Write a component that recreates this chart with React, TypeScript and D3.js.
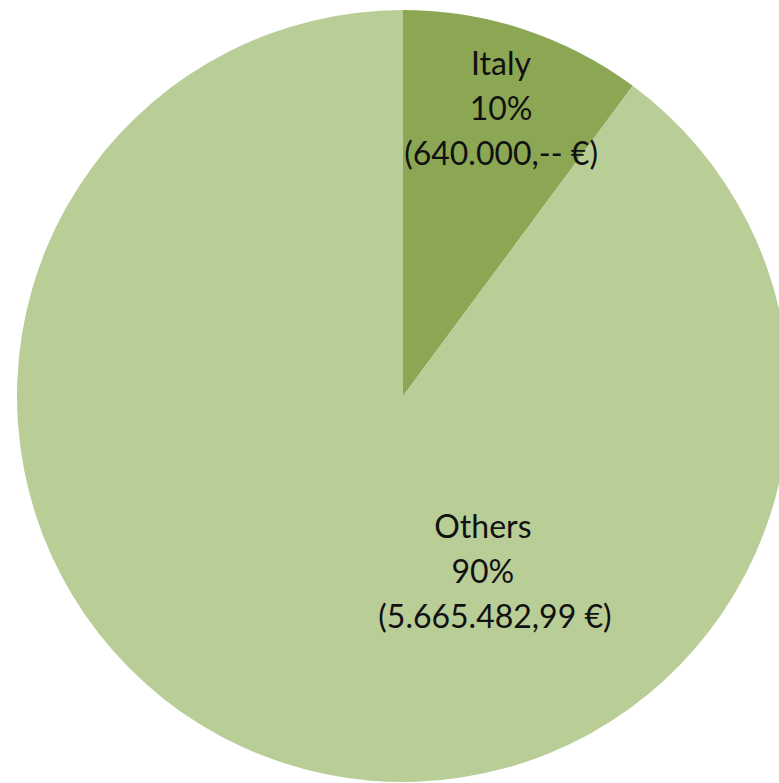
import React from "react";
import * as d3 from "d3";

const categories = ["Italy", "Others"];
const values = [640000, 5665482.99];
const percentLabels = ["10%", "90%"];
const amountLabels = ["(640.000,-- €)", "(5.665.482,99 €)"];
const colors = ["#8BA753", "#B9CE96"];

const W = 779;
const H = 783;
const cx = 403;
const cy = 396;
const R = 386;
// label block centers as fraction of radius (dx, dy)
const labelOffsets: [number, number][] = [
  [0.254, -0.7435],
  [0.207, 0.456],
];
// extra horizontal shift of the amount line per label
const amountShift = [0, 12];

export default function App() {
  const pie = d3.pie<number>().sort(null).value((d) => d);
  const arcs = pie(values);
  const arc = d3.arc<d3.PieArcDatum<number>>().innerRadius(0).outerRadius(R);
  const lineH = 45;
  return (
    <svg
      width={W}
      height={H}
      style={{ position: "absolute", left: 0, top: 0, background: "#fff" }}
    >
      <g transform={`translate(${cx},${cy})`}>
        {arcs.map((a, i) => (
          <path key={categories[i]} d={arc(a) || ""} fill={colors[i]} />
        ))}
        {arcs.map((a, i) => {
          const x = labelOffsets[i][0] * R;
          const y = labelOffsets[i][1] * R;
          const lines = [categories[i], percentLabels[i], amountLabels[i]];
          return (
            <text
              key={"l" + i}
              textAnchor="middle"
              fontFamily="Lato, 'Open Sans', sans-serif"
              fontSize={32}
              fill="#111"
            >
              {lines.map((t, j) => (
                <tspan
                  key={j}
                  x={x + (j === 2 ? amountShift[i] : 0)}
                  y={y + (j - 1) * lineH + 11}
                >
                  {t}
                </tspan>
              ))}
            </text>
          );
        })}
      </g>
    </svg>
  );
}
